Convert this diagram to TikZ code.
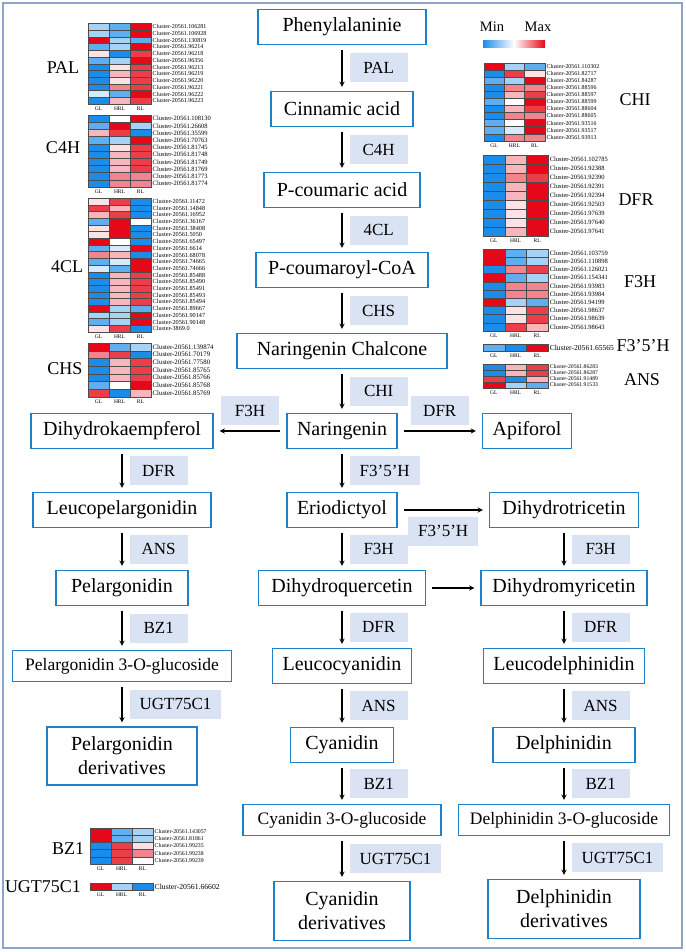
\documentclass[tikz,border=0pt]{standalone}
\usepackage{fontspec}
\setmainfont{Liberation Serif}
\usetikzlibrary{arrows, positioning}

\definecolor{boxblue}{RGB}{30,128,200}
\definecolor{enzfill}{RGB}{218,227,243}
\definecolor{framegray}{RGB}{143,165,200}
% heatmap levels, red (max) to blue (min)
\definecolor{R1}{RGB}{230,8,24}
\definecolor{R2}{RGB}{236,62,72}
\definecolor{R3}{RGB}{241,132,140}
\definecolor{R4}{RGB}{246,182,188}
\definecolor{R5}{RGB}{251,226,228}
\definecolor{W0}{RGB}{255,255,255}
\definecolor{B4}{RGB}{214,234,250}
\definecolor{B3}{RGB}{165,210,245}
\definecolor{B2}{RGB}{95,175,240}
\definecolor{B1}{RGB}{28,140,235}

\newcommand{\pxfont}[2]{\fontsize{#1}{#2}\selectfont}

\tikzstyle{compound} = [rectangle, draw=boxblue, line width=1.4pt, fill=white, minimum height=35pt, inner xsep=10pt, font=\pxfont{20}{24}, align=center]
\tikzstyle{glucoside} = [compound, minimum height=31pt, font=\pxfont{17.5}{21}]
\tikzstyle{enzyme} = [rectangle, fill=enzfill, minimum width=58pt, minimum height=29pt, inner xsep=10pt, font=\pxfont{17}{20}]
\tikzstyle{arrow} = [line width=1.3pt, ->, >=stealth, shorten <=5pt, shorten >=4pt]
\tikzstyle{cell} = [draw=gray!60!black, line width=0.3pt]
\tikzstyle{genename} = [font=\pxfont{18}{20}]
\tikzstyle{collab} = [font=\pxfont{5.5}{6}, inner sep=0pt]

% #1 top left, #2 cell width, #3 row height, #4 number of rows, #5 name size, #6 rows
\newcommand{\heatmap}[6]{%
  \begin{scope}[shift={#1}]
    \foreach \ca/\cb/\cc/\nm [count=\r from 0] in {#6} {
      \filldraw[cell, fill=\ca] (0,\r*#3) rectangle ++(#2,#3);
      \filldraw[cell, fill=\cb] (#2,\r*#3) rectangle ++(#2,#3);
      \filldraw[cell, fill=\cc] (2*#2,\r*#3) rectangle ++(#2,#3);
      \node[anchor=west, inner sep=0pt, font=\pxfont{#5}{#5}] at (3*#2+1.5,\r*#3+#3/2) {Cluster-\nm};
    }
    \foreach \col [count=\k from 0] in {GL,HRL,RL}
      \node[collab] at (\k*#2+#2/2,#4*#3+5) {\col};
  \end{scope}}

\begin{document}
\begin{tikzpicture}[x=1pt, y=-1pt, node distance=80pt]
  \useasboundingbox (0,0) rectangle (685,952);
  \draw[framegray, line width=1.5pt] (3,3) rectangle (682,948);

  % main pathway
  \node (phe) [compound, minimum width=168pt] at (342,27) {Phenylalaninie};
  \node (cin) [compound, minimum width=142pt, below of=phe, yshift=-2pt] {Cinnamic acid};
  \node (pcou) [compound, minimum width=156pt, below of=cin, yshift=-1pt] {P-coumaric acid};
  \node (pcoa) [compound, minimum width=172pt, below of=pcou] {P-coumaroyl-CoA};
  \node (chal) [compound, minimum width=210pt, below of=pcoa, yshift=-1pt] {Naringenin Chalcone};
  \node (nar) [compound, below of=chal] {Naringenin};
  \node (dhk) [compound, minimum width=182pt, left of=nar, xshift=-140pt] {Dihydrokaempferol};
  \node (api) [compound, right of=nar, xshift=105pt] {Apiforol};
  \node (erio) [compound, below of=nar, yshift=1pt] {Eriodictyol};
  \node (leupel) [compound, minimum width=178pt, left of=erio, xshift=-140pt] {Leucopelargonidin};
  \node (dht) [compound, minimum width=149pt, right of=erio, xshift=142pt] {Dihydrotricetin};
  \node (dhq) [compound, minimum width=167pt, below of=erio, yshift=2pt] {Dihydroquercetin};
  \node (pel) [compound, minimum width=132pt, left of=dhq, xshift=-140pt] {Pelargonidin};
  \node (dhm) [compound, minimum width=166pt, right of=dhq, xshift=142pt] {Dihydromyricetin};
  \node (leucy) [compound, minimum width=136pt, below of=dhq, yshift=2pt] {Leucocyanidin};
  \node (pel3g) [glucoside, minimum width=219pt, left of=leucy, xshift=-140pt] {Pelargonidin 3-O-glucoside};
  \node (leudel) [compound, minimum width=157pt, right of=leucy, xshift=142pt] {Leucodelphinidin};
  \node (cya) [compound, minimum width=103pt, below of=leucy, yshift=1pt] {Cyanidin};
  \node (pelder) [compound, minimum width=150pt, minimum height=58pt, left of=cya, xshift=-140pt, yshift=-11pt] {Pelargonidin\\derivatives};
  \node (delph) [compound, minimum width=142pt, right of=cya, xshift=142pt] {Delphinidin};
  \node (cy3g) [glucoside, minimum width=198pt, below of=cya, yshift=5pt] {Cyanidin 3-O-glucoside};
  \node (del3g) [glucoside, minimum width=211pt, right of=cy3g, xshift=142pt] {Delphinidin 3-O-glucoside};
  \node (cyder) [compound, minimum width=136pt, minimum height=59pt, below of=cy3g, yshift=-11pt] {Cyanidin\\derivatives};
  \node (delder) [compound, minimum width=152pt, minimum height=59pt, right of=cyder, xshift=142pt, yshift=2pt] {Delphinidin\\derivatives};

  \draw [arrow] (phe) -- node[enzyme, right=7pt] (ePAL) {PAL} (cin);
  \draw [arrow] (cin) -- node[enzyme, right=7pt] (eC4H) {C4H} (pcou);
  \draw [arrow] (pcou) -- node[enzyme, right=7pt] (e4CL) {4CL} (pcoa);
  \draw [arrow] (pcoa) -- node[enzyme, right=7pt] (eCHS) {CHS} (chal);
  \draw [arrow] (chal) -- node[enzyme, right=7pt] (eCHI) {CHI} (nar);
  \draw [arrow, shorten <=6pt, shorten >=6pt] (nar) -- node[enzyme, above=5pt] (eF3Hk) {F3H} (dhk);
  \draw [arrow, shorten <=6pt, shorten >=6pt] (nar) -- node[enzyme, above=5pt] (eDFRa) {DFR} (api);
  \draw [arrow] (nar) -- node[enzyme, right=7pt] (eF35Hq) {F3’5’H} (erio);
  \draw [arrow, shorten <=6pt, shorten >=6pt] (erio) -- node[enzyme, below=6pt] (eF35Ht) {F3’5’H} (dht);
  \draw [arrow] (erio) -- node[enzyme, right=7pt] (eF3Hq) {F3H} (dhq);
  \draw [arrow, shorten <=6pt, shorten >=6pt] (dhq) -- (dhm);
  \draw [arrow] (dhq) -- node[enzyme, right=7pt] (eDFRq) {DFR} (leucy);
  \draw [arrow] (leucy) -- node[enzyme, right=7pt] (eANSq) {ANS} (cya);
  \draw [arrow] (cya) -- node[enzyme, right=7pt] (eBZ1q) {BZ1} (cy3g);
  \draw [arrow] (cy3g) -- node[enzyme, right=7pt] (eUGTq) {UGT75C1} (cyder);

  % pelargonidin branch
  \draw [arrow] (dhk) -- node[enzyme, right=7pt] (eDFRk) {DFR} (leupel);
  \draw [arrow] (leupel) -- node[enzyme, right=7pt] (eANSk) {ANS} (pel);
  \draw [arrow] (pel) -- node[enzyme, right=7pt] (eBZ1k) {BZ1} (pel3g);
  \draw [arrow] (pel3g) -- node[enzyme, right=7pt] (eUGTk) {UGT75C1} (pelder);

  % delphinidin branch
  \draw [arrow] (dht) -- node[enzyme, right=7pt] (eF3Ht) {F3H} (dhm);
  \draw [arrow] (dhm) -- node[enzyme, right=7pt] (eDFRt) {DFR} (leudel);
  \draw [arrow] (leudel) -- node[enzyme, right=7pt] (eANSt) {ANS} (delph);
  \draw [arrow] (delph) -- node[enzyme, right=7pt] (eBZ1t) {BZ1} (del3g);
  \draw [arrow] (del3g) -- node[enzyme, right=7pt] (eUGTt) {UGT75C1} (delder);

  % legend
  \node (min) [font=\pxfont{14.5}{16}] at (492,27) {Min};
  \node (max) [font=\pxfont{14.5}{16}] at (538,27) {Max};
  \shade[left color=B1, right color=R1, middle color=white] (483,41) rectangle (545,48);

  % heatmaps
  \node (gPAL) [genename] at (63,68) {PAL};
  \heatmap{(88,23.3)}{21}{6.73}{12}{6}{B3/B2/R1/20561.106281,
    B3/B2/R1/20561.106928, R1/B3/B2/20561.130819, B2/B3/R1/20561.96214,
    R5/B1/R2/20561.96218, B2/B3/R1/20561.96356, B1/R5/R2/20561.96213,
    B1/R4/R2/20561.96219, B1/R5/R2/20561.96220, B1/R3/R2/20561.96221,
    B4/B2/R1/20561.96222, B1/R4/R2/20561.96223}
  \node (gC4H) [genename] at (63,148) {C4H};
  \heatmap{(88,115)}{21}{7.2}{10}{6.5}{B1/W0/R1/20561.108130,
    B2/R1/B3/20561.26608, R4/R2/B1/20561.35599, B2/B3/R1/20561.70763,
    B1/R5/R2/20561.81745, B1/R4/R2/20561.81748, B1/R4/R2/20561.81749,
    B1/R4/R2/20561.81769, B1/R3/R3/20561.81773, B1/R3/R3/20561.81774}
  \node (g4CL) [genename] at (67,267) {4CL};
  \heatmap{(88,198)}{21}{6.7}{20}{6.2}{R5/R2/B1/20561.11472,
    R2/R4/B1/20561.14848, R4/R2/B1/20561.16952, B2/R1/W0/20561.36167,
    R5/R1/B1/20561.38408, R5/R1/B1/20561.5050, R1/W0/B1/20561.65497,
    B2/B4/R1/20561.6614, R3/R4/B1/20561.68078, B2/B4/R1/20561.74665,
    B4/B2/R1/20561.74666, B1/R4/R2/20561.85488, B1/R4/R2/20561.85490,
    B1/R4/R2/20561.85491, B1/R4/R2/20561.85493, B1/R4/R2/20561.85494,
    R1/B3/B2/20561.89667, B3/B3/R1/20561.90147, B2/B3/R1/20561.90148,
    R5/R2/B1/3869.0}
  \node (gCHS) [genename] at (65,369) {CHS};
  \heatmap{(88,343)}{21}{7.7}{7}{6.8}{R1/B2/B3/20561.139874,
    R3/R2/B1/20561.70179, B1/R4/R2/20561.77580, B1/R4/R2/20561.85765,
    B1/R4/R2/20561.85766, B2/W0/R1/20561.85768, R2/B1/R4/20561.85769}
  \node (gCHI) [genename] at (635,100) {CHI};
  \heatmap{(484,62.7)}{20.3}{7.1}{11}{5.9}{R1/B3/B2/20561.110302,
    B1/R2/R5/20561.82717, B2/B3/R1/20561.84287, B1/R3/R3/20561.88596,
    B1/R4/R2/20561.88597, B2/W0/R1/20561.88599, B1/R4/R2/20561.88604,
    B1/R3/R3/20561.88605, B2/W0/R1/20561.93516, B2/B4/R1/20561.93517,
    B1/R3/R3/20561.93913}
  \node (gDFR) [genename] at (636,200) {DFR};
  \heatmap{(483,155)}{21.7}{9}{9}{6.5}{B1/R4/R1/20561.102785,
    B1/R4/R1/20561.92388, B1/R3/R2/20561.92390, B1/R4/R1/20561.92391,
    B1/R4/R1/20561.92394, B1/R5/R1/20561.92503, B1/R5/R1/20561.97639,
    B1/R5/R1/20561.97640, B1/R4/R1/20561.97641}
  \node (gF3H) [genename] at (640,282) {F3H};
  \heatmap{(483,249)}{21.7}{8.2}{10}{6.5}{R1/B2/B3/20561.103759,
    R1/B2/B3/20561.110898, B1/R3/R2/20561.126021, R1/B2/B3/20561.154341,
    B1/R3/R3/20561.93983, B1/R3/R3/20561.93984, R1/B3/B2/20561.94199,
    B1/R5/R2/20561.98637, B1/R5/R2/20561.98639, B1/R2/R4/20561.98643}
  \node (gF35H) [genename] at (643,346) {F3’5’H};
  \heatmap{(483,344)}{21.7}{7}{1}{7.6}{B2/B1/R1/20561.65565}
  \node (gANS) [genename] at (642,380) {ANS};
  \heatmap{(483,364)}{21.7}{6}{4}{5.7}{B1/R4/R2/20561.86283,
    B1/R4/R2/20561.86287, R2/B1/R4/20561.91489, R1/B3/B2/20561.91533}
  \node (gBZ1) [genename] at (68,849) {BZ1};
  \heatmap{(90,828)}{21}{7.2}{5}{5.8}{R1/B2/B3/20561.143057,
    R1/B2/B3/20561.81861, B1/R2/R5/20561.99235, B1/R2/R3/20561.99238,
    B1/R2/W0/20561.99239}
  \node (gUGT) [genename] at (43,887) {UGT75C1};
  \heatmap{(90,883)}{21}{7}{1}{7.7}{R1/B3/B1/20561.66602}
\end{tikzpicture}
\end{document}
